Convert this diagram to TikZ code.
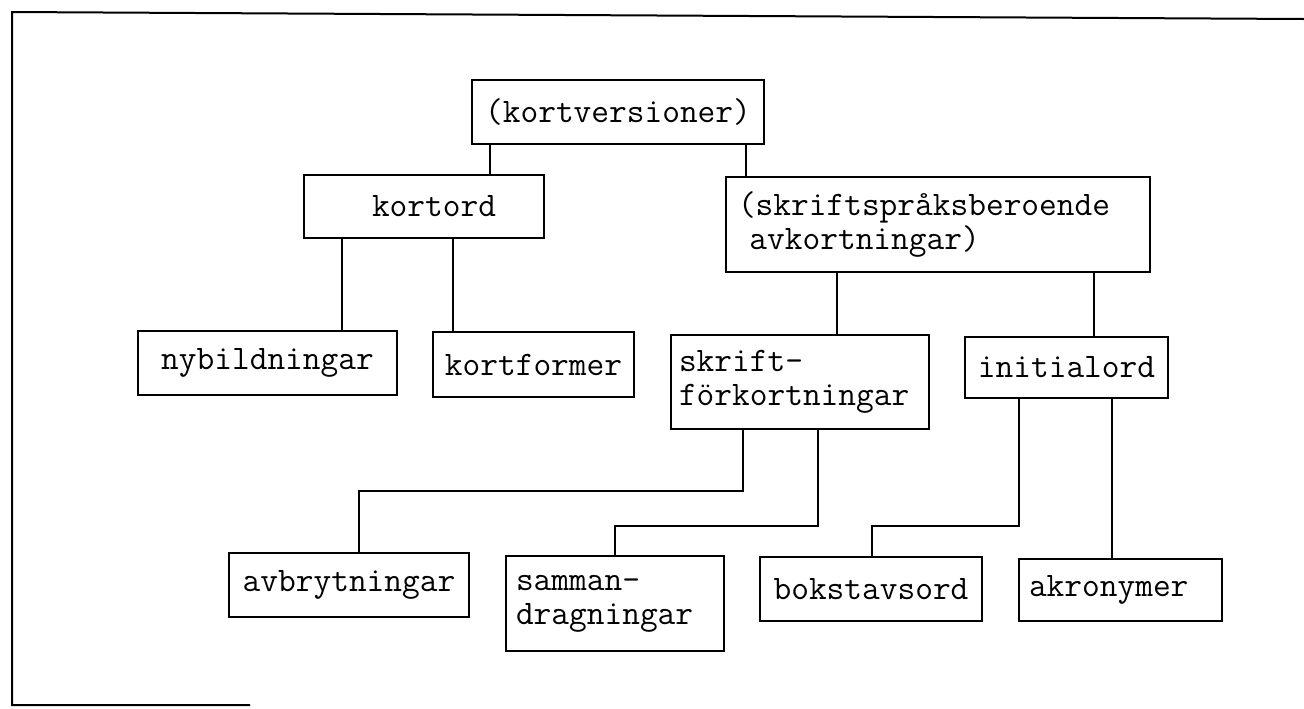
\documentclass[tikz,border=0pt]{standalone}
\usepackage{fontspec}
\begin{document}
\begin{tikzpicture}[x=0.5pt,y=-0.5pt,
  box/.style={draw, line width=1pt, inner sep=0pt, font=\ttfamily\fontsize{17.2pt}{17pt}\selectfont},
  wrapbox/.style={box, align=left, inner xsep=5pt},
  link/.style={line width=0.8pt}]
\useasboundingbox (0,0) rectangle (1304,708);
\draw[line width=1pt] (250,705) -- (12,705) -- (12,12) -- (1304,19);
\node[box, minimum width=146pt, minimum height=32pt] (kv) at (618,112) {(kortversioner)};
\node[box, minimum width=120pt, minimum height=31.5pt] (kd) at (424,206.5) {\hspace{10pt}kortord};
\node[wrapbox, inner xsep=6pt, text width=200pt, minimum height=47.5pt] (sk) at (938,224.5) {(skriftspråksberoende\\\ avkortningar)};
\node[box, minimum width=129.5pt, minimum height=32pt] (ny) at (267.5,363) {nybildningar};
\node[box, minimum width=100.5pt, minimum height=32.5pt] (kf) at (533.5,364.5) {kortformer};
\node[wrapbox, inner xsep=4pt, text width=121pt, minimum height=47pt] (sf) at (800,382) {skrift-\\förkortningar};
\node[box, minimum width=101.5pt, minimum height=30.5pt] (io) at (1066.5,367.5) {initialord};
\node[box, minimum width=120pt, minimum height=32pt] (ab) at (349,585) {avbrytningar};
\node[wrapbox, text width=99pt, minimum height=47.5pt] (sm) at (615,603.5) {samman-\\dragningar};
\node[box, minimum width=111pt, minimum height=32pt] (bo) at (871,589) {bokstavsord};
\node[wrapbox, text width=91.5pt, minimum height=31pt] (ak) at (1120.5,590) {akronymer};
\draw[link] (kv.south -| 490,0) -- (kd.north -| 490,0);
\draw[link] (kv.south -| 746,0) -- (sk.north -| 746,0);
\draw[link] (kd.south -| 342,0) -- (ny.north -| 342,0);
\draw[link] (kd.south -| 453,0) -- (kf.north -| 453,0);
\draw[link] (sk.south -| 837,0) -- (sf.north -| 837,0);
\draw[link] (sk.south -| 1094,0) -- (io.north -| 1094,0);
\draw[link] (sf.south -| 743,0) |- (359,491) -- (ab.north -| 359,0);
\draw[link] (sf.south -| 818,0) |- (615,526) -- (sm.north);
\draw[link] (io.south -| 1019,0) |- (872,526) -- (bo.north -| 872,0);
\draw[link] (io.south -| 1112,0) -- (ak.north -| 1112,0);
\end{tikzpicture}
\end{document}
